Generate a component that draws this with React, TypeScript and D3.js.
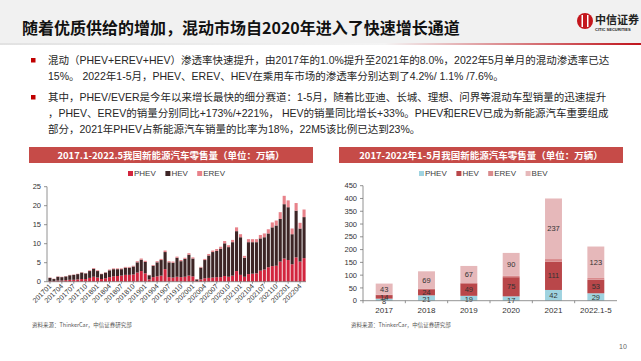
import React from 'react';
import * as d3 from 'd3';

const FONT = "'Liberation Sans', 'Noto Sans CJK SC', Arial, sans-serif";
const CJK = "'Noto Sans CJK SC', 'Liberation Sans', sans-serif";

// monthly retail, 2017.01 - 2022.05 (万辆)
const monthLabels = d3
  .range(2017, 2023)
  .flatMap((y) => d3.range(1, 13).map((m) => `${y}${String(m).padStart(2, '0')}`))
  .slice(0, 65);

const phevMonthly = [
  0.2, 0.2, 0.3, 0.3, 0.4, 0.5, 0.5, 0.6, 0.7, 0.7, 1.0, 1.3,
  1.1, 0.7, 0.9, 1.2, 1.4, 1.5, 1.6, 1.8, 1.8, 1.9, 2.4, 2.8,
  2.2, 0.6, 1.2, 1.4, 1.6, 3.3, 1.2, 1.1, 1.3, 1.2, 1.3, 1.6,
  1.4, 0.2, 0.6, 0.9, 1.0, 1.1, 1.2, 1.2, 1.5, 1.3, 1.6, 2.8,
  1.8, 1.3, 2.0, 2.1, 2.2, 2.9, 3.2, 3.8, 4.1, 4.2, 5.3, 6.1,
  5.7, 4.6, 6.4, 5.3, 6.2,
];
const hevMonthly = [
  0.8, 0.5, 1.0, 0.9, 1.0, 1.2, 1.3, 1.4, 1.7, 1.5, 1.8, 2.1,
  1.7, 1.3, 1.5, 1.8, 1.9, 1.8, 1.7, 1.9, 1.9, 2.1, 2.7, 3.0,
  3.0, 1.1, 3.0, 3.7, 4.1, 4.5, 3.9, 3.9, 5.0, 4.2, 4.7, 5.5,
  4.7, 0.4, 3.1, 4.8, 5.9, 6.7, 6.9, 7.5, 8.6, 7.8, 8.8, 10.5,
  9.9, 5.0, 8.4, 8.3, 8.2, 8.5, 8.5, 8.9, 10.2, 10.6, 11.2, 14.3,
  13.9, 7.9, 12.3, 8.7, 10.8,
];
const erevMonthly = [
  0.1, 0.1, 0.1, 0.1, 0.1, 0.1, 0.1, 0.1, 0.1, 0.1, 0.2, 0.2,
  0.2, 0.1, 0.1, 0.2, 0.2, 0.2, 0.2, 0.2, 0.2, 0.2, 0.3, 0.3,
  0.3, 0.1, 0.2, 0.3, 0.3, 0.4, 0.3, 0.3, 0.3, 0.3, 0.3, 0.4,
  0.3, 0.1, 0.2, 0.3, 0.4, 0.4, 0.5, 0.5, 0.6, 0.5, 0.6, 1.0,
  0.8, 0.5, 0.8, 0.8, 0.8, 0.9, 1.0, 1.1, 1.3, 1.3, 1.8, 2.2,
  1.8, 1.5, 2.0, 1.5, 2.0,
];
const leftTicks = [0, 5, 10, 15, 20, 25];

// yearly retail (万辆)
const years = ['2017', '2018', '2019', '2020', '2021', '2022.1-5'];
const phevYearly = [8, 21, 19, 17, 42, 29];
const hevYearly = [14, 24, 49, 75, 111, 53];
const erevYearly = [2, 1, 1, 5, 10, 7];
const bevYearly = [43, 69, 67, 90, 237, 123];
const rightTicks = [0, 50, 100, 150, 200, 250, 300, 350, 400, 450];

const leftKeys = ['PHEV', 'HEV', 'EREV'];
const leftColors = ['#d2253e', '#3d2526', '#e8828a'];
const rightKeys = ['PHEV', 'HEV', 'EREV', 'BEV'];
const rightColors = ['#9fd3e0', '#b9474a', '#d98a8c', '#e6b8ba'];

const bullet1 = [
  '混动（PHEV+EREV+HEV）渗透率快速提升，由2017年的1.0%提升至2021年的8.0%，2022年5月单月的混动渗透率已达',
  '15%。 2022年1-5月，PHEV、EREV、HEV在乘用车市场的渗透率分别达到了4.2%/ 1.1% /7.6%。',
];
const bullet2 = [
  '其中，PHEV/EVER是今年以来增长最快的细分赛道：1-5月，随着比亚迪、长城、理想、问界等混动车型销量的迅速提升',
  '，PHEV、EREV的销量分别同比+173%/+221%， HEV的销量同比增长+33%。PHEV和EREV已成为新能源汽车重要组成',
  '部分，2021年PHEV占新能源汽车销量的比率为18%，22M5该比例已达到23%。',
];

function Legend({ items, colors, x, y }) {
  let cx = x;
  return (
    <g fontFamily={FONT} fontSize={8} fill="#404040">
      {items.map((k, i) => {
        const gx = cx;
        cx += 8 + k.length * 5.6 + 7;
        return (
          <g key={k}>
            <rect x={gx} y={y - 4} width={5} height={5} fill={colors[i]} />
            <text x={gx + 6} y={y + 1}>{k}</text>
          </g>
        );
      })}
    </g>
  );
}

function LeftChart() {
  const x = d3.scaleBand().domain(monthLabels).range([48, 306]).paddingInner(0.22).paddingOuter(0.1);
  const y = d3.scaleLinear().domain([0, 25]).range([281.7, 186.7]);
  const rows = monthLabels.map((m, i) => ({
    m,
    PHEV: phevMonthly[i],
    HEV: hevMonthly[i],
    EREV: erevMonthly[i],
  }));
  const stacked = d3.stack().keys(leftKeys)(rows);
  const shown = monthLabels.filter((_, i) => i % 3 === 0);
  return (
    <g>
      <rect x={29} y={147} width={284} height={16} fill="#c64b48" />
      <text x={171} y={158.5} textAnchor="middle" fill="#fff" fontFamily={CJK} fontWeight={700} fontSize={9.5}>
        2017.1-2022.5我国新能源汽车零售量（单位：万辆）
      </text>
      <Legend items={leftKeys} colors={leftColors} x={128} y={175} />
      {stacked.map((s, si) => (
        <g key={s.key} fill={leftColors[si]}>
          {s.map((d) => (
            <rect
              key={d.data.m}
              x={x(d.data.m)}
              y={y(d[1])}
              width={x.bandwidth()}
              height={Math.max(0, y(d[0]) - y(d[1]))}
            />
          ))}
        </g>
      ))}
      <g fontFamily={FONT} fontSize={7.5} fill="#333" textAnchor="end">
        {leftTicks.map((t) => (
          <g key={t}>
            <line x1={44} x2={47} y1={y(t)} y2={y(t)} stroke="#777" strokeWidth={0.8} />
            <text x={41} y={y(t) + 2.6}>{t}</text>
          </g>
        ))}
      </g>
      <line x1={47} x2={47} y1={y(25)} y2={y(0)} stroke="#777" strokeWidth={0.8} />
      <line x1={47} x2={306} y1={y(0)} y2={y(0)} stroke="#777" strokeWidth={0.8} />
      <g fontFamily={FONT} fontSize={7} fill="#333" textAnchor="end">
        {shown.map((m) => {
          const cx = x(m) + x.bandwidth() / 2;
          return (
            <g key={m}>
              <line x1={cx} x2={cx} y1={y(0)} y2={y(0) + 2} stroke="#777" strokeWidth={0.8} />
              <text transform={`translate(${cx + 2},${y(0) + 5}) rotate(-45)`}>{m}</text>
            </g>
          );
        })}
      </g>
      <text x={32} y={327} fontFamily={CJK} fontSize={5.5} fill="#555">
        资料来源：ThinkerCar，中信证券研究部
      </text>
    </g>
  );
}

function RightChart() {
  const x = d3.scaleBand().domain(years).range([363, 617]).paddingInner(0.6).paddingOuter(0.3);
  const y = d3.scaleLinear().domain([0, 450]).range([300.7, 185.7]);
  const rows = years.map((yr, i) => ({
    yr,
    PHEV: phevYearly[i],
    HEV: hevYearly[i],
    EREV: erevYearly[i],
    BEV: bevYearly[i],
  }));
  const stacked = d3.stack().keys(rightKeys)(rows);
  const step = x.step();
  return (
    <g>
      <rect x={339} y={147} width={284} height={16} fill="#c64b48" />
      <text x={481} y={158.5} textAnchor="middle" fill="#fff" fontFamily={CJK} fontWeight={700} fontSize={9.5}>
        2017-2022年1-5月我国新能源汽车零售量（单位：万辆）
      </text>
      <Legend items={rightKeys} colors={rightColors} x={419} y={175} />
      {stacked.map((s, si) => (
        <g key={s.key} fill={rightColors[si]}>
          {s.map((d) => (
            <rect
              key={d.data.yr}
              x={x(d.data.yr)}
              y={y(d[1])}
              width={x.bandwidth()}
              height={y(d[0]) - y(d[1])}
            />
          ))}
        </g>
      ))}
      <g fontFamily={FONT} fontSize={7.5} fill="#333" textAnchor="middle">
        {stacked
          .filter((s) => s.key !== 'EREV')
          .map((s) =>
            s.map((d) => {
              const v = d[1] - d[0];
              // small bottom segments sit a little lower so they clear the one above
              const shift = s.key === 'PHEV' && v < 25 ? 1.5 : 0;
              return (
                <text
                  key={s.key + d.data.yr}
                  x={x(d.data.yr) + x.bandwidth() / 2}
                  y={(y(d[0]) + y(d[1])) / 2 + 2.7 + shift}
                >
                  {v}
                </text>
              );
            }),
          )}
      </g>
      <g fontFamily={FONT} fontSize={7.5} fill="#333" textAnchor="end">
        {rightTicks.map((t) => (
          <g key={t}>
            <line x1={360} x2={363} y1={y(t)} y2={y(t)} stroke="#777" strokeWidth={0.8} />
            <text x={357} y={y(t) + 2.6}>{t}</text>
          </g>
        ))}
      </g>
      <line x1={363} x2={363} y1={y(450)} y2={y(0)} stroke="#777" strokeWidth={0.8} />
      <line x1={363} x2={617} y1={y(0)} y2={y(0)} stroke="#777" strokeWidth={0.8} />
      {years.map((yr) => (
        <line
          key={yr}
          x1={x(yr) - (step - x.bandwidth()) / 2}
          x2={x(yr) - (step - x.bandwidth()) / 2}
          y1={y(0)}
          y2={y(0) + 2.5}
          stroke="#777"
          strokeWidth={0.8}
        />
      ))}
      <g fontFamily={FONT} fontSize={8} fill="#333" textAnchor="middle">
        {years.map((yr) => (
          <text key={yr} x={x(yr) + x.bandwidth() / 2} y={313}>
            {yr}
          </text>
        ))}
      </g>
      <text x={351} y={327} fontFamily={CJK} fontSize={5.5} fill="#555">
        资料来源：ThinkerCar，中信证券研究部
      </text>
    </g>
  );
}

export default function App() {
  return (
    <svg
      width={641}
      height={361}
      viewBox="0 0 641 361"
      style={{ position: 'absolute', left: 0, top: 0, background: '#fff' }}
    >
      <defs>
        <linearGradient id="hdrLine" x1="0" x2="1" y1="0" y2="0">
          <stop offset="0" stopColor="#e2e2e2" />
          <stop offset="0.6" stopColor="#f4f4f4" />
          <stop offset="1" stopColor="#c0141c" />
        </linearGradient>
      </defs>
      <rect x={0} y={0} width={641} height={44} fill="#f1f1f1" />
      <rect x={0} y={43} width={641} height={2} fill="url(#hdrLine)" />
      <text x={22} y={34} fontFamily={CJK} fontWeight={700} fontSize={16} fill="#111">
        随着优质供给的增加，混动市场自2020年进入了快速增长通道
      </text>
      {/* logo */}
      <g>
        <circle cx={585} cy={21} r={8} fill="#c4161c" />
        <rect x={581.5} y={15} width={1.5} height={12} fill="#fff" />
        <rect x={587} y={15} width={1.5} height={12} fill="#fff" />
        <text x={595} y={24} fontFamily={CJK} fontWeight={700} fontSize={11} fill="#222">
          中信证券
        </text>
        <text x={595} y={30.5} fontFamily={FONT} fontWeight={700} fontSize={4} fill="#222">
          CITIC SECURITIES
        </text>
      </g>
      <g fontFamily={FONT} fontSize={10.5} fill="#262626">
        <rect x={31} y={58} width={4.5} height={4.5} fill="#c00000" />
        {bullet1.map((t, i) => (
          <text key={i} x={48} y={64 + i * 16}>
            {t}
          </text>
        ))}
        <rect x={31} y={95} width={4.5} height={4.5} fill="#c00000" />
        {bullet2.map((t, i) => (
          <text key={i} x={48} y={101 + i * 16}>
            {t}
          </text>
        ))}
      </g>
      <LeftChart />
      <RightChart />
      <text x={619} y={349} fontFamily={FONT} fontSize={7} fill="#666">
        10
      </text>
    </svg>
  );
}
